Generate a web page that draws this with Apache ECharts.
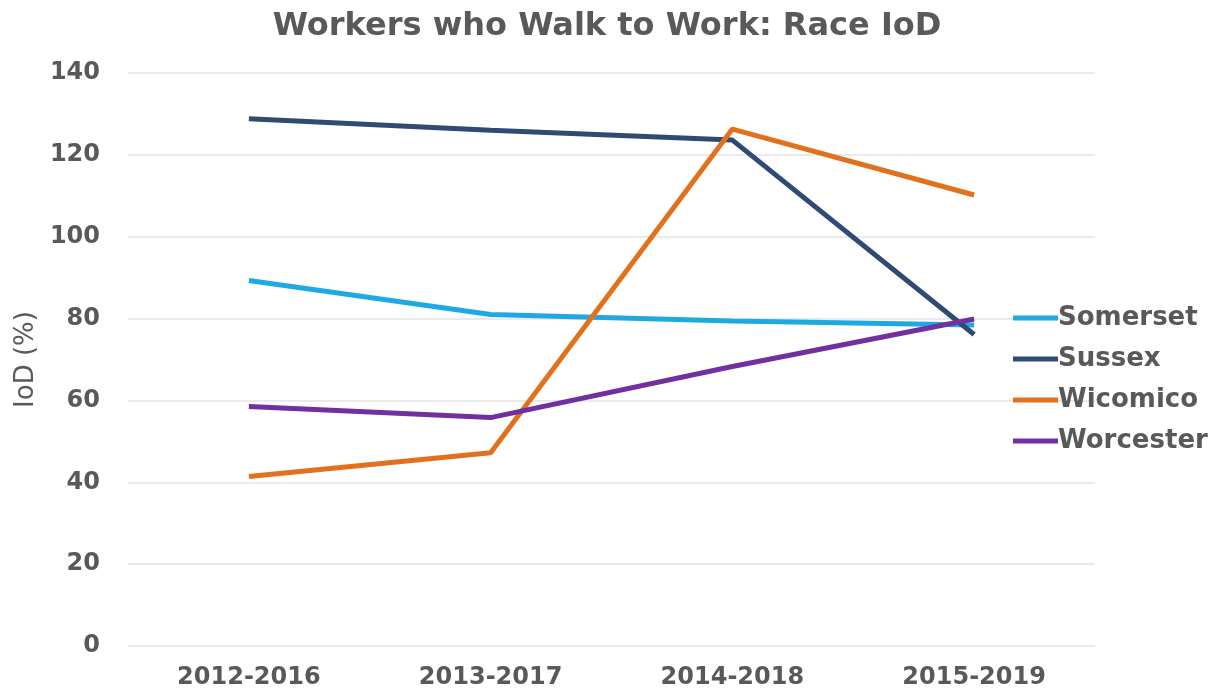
<!DOCTYPE html>
<html>
<head>
<meta charset="utf-8">
<script src="https://cdn.jsdelivr.net/npm/echarts@6/dist/echarts.min.js"></script>
<style>
  html, body { margin: 0; padding: 0; background: #fff; }
  #chart { width: 1214px; height: 690px; }
</style>
</head>
<body>
<div id="chart"></div>
<script>
const periods = ['2012-2016', '2013-2017', '2014-2018', '2015-2019']
const somerset = [89.3, 81.0, 79.4, 78.4]
const sussex = [128.8, 126.0, 123.6, 76.1]
const wicomico = [41.4, 47.2, 126.3, 110.2]
const worcester = [58.5, 55.8, 68.3, 79.9]

const FONT = '"DejaVu Sans", sans-serif'
const TEXT = '#595959'
const COLORS = { Somerset: '#1ea9e1', Sussex: '#2f4a73', Wicomico: '#e2711d', Worcester: '#7030a0' }

const chart = echarts.init(document.getElementById('chart'))

function line(name, data) {
  return {
    name,
    type: 'line',
    data,
    showSymbol: false,
    symbol: 'none',
    lineStyle: { color: COLORS[name], width: 5 },
    itemStyle: { color: COLORS[name] },
  }
}

chart.setOption({
  animation: false,
  backgroundColor: '#fff',
  textStyle: { fontFamily: FONT },
  title: {
    text: 'Workers who Walk to Work: Race IoD',
    left: 'center',
    top: 6,
    textStyle: { color: TEXT, fontSize: 32, fontWeight: 'bold', fontFamily: FONT },
  },
  legend: {
    orient: 'vertical',
    left: 1008,
    top: 300,
    itemWidth: 45,
    itemHeight: 5,
    itemGap: 15,
    icon: 'rect',
    textStyle: { color: TEXT, fontSize: 26, fontWeight: 'bold', fontFamily: FONT, padding: [0, 0, 0, -5] },
    data: ['Somerset', 'Sussex', 'Wicomico', 'Worcester'],
  },
  grid: { left: 128, right: 119, top: 73, bottom: 43 },
  xAxis: {
    type: 'category',
    data: periods,
    axisLine: { show: false },
    axisTick: { show: false },
    axisLabel: { color: TEXT, fontSize: 24, fontWeight: 'bold', fontFamily: FONT, margin: 20 },
  },
  yAxis: {
    type: 'value',
    min: 0,
    max: 140,
    interval: 20,
    name: 'IoD (%)',
    nameLocation: 'middle',
    nameGap: 86,
    nameRotate: 90,
    nameTextStyle: { color: TEXT, fontSize: 26, fontFamily: FONT },
    axisLine: { show: false },
    axisTick: { show: false },
    axisLabel: { color: TEXT, fontSize: 24, fontWeight: 'bold', fontFamily: FONT, margin: 28 },
    splitLine: { lineStyle: { color: '#e3e3e3', width: 1.5 } },
  },
  series: [
    line('Somerset', somerset),
    line('Sussex', sussex),
    line('Wicomico', wicomico),
    line('Worcester', worcester),
  ],
})
</script>
</body>
</html>
